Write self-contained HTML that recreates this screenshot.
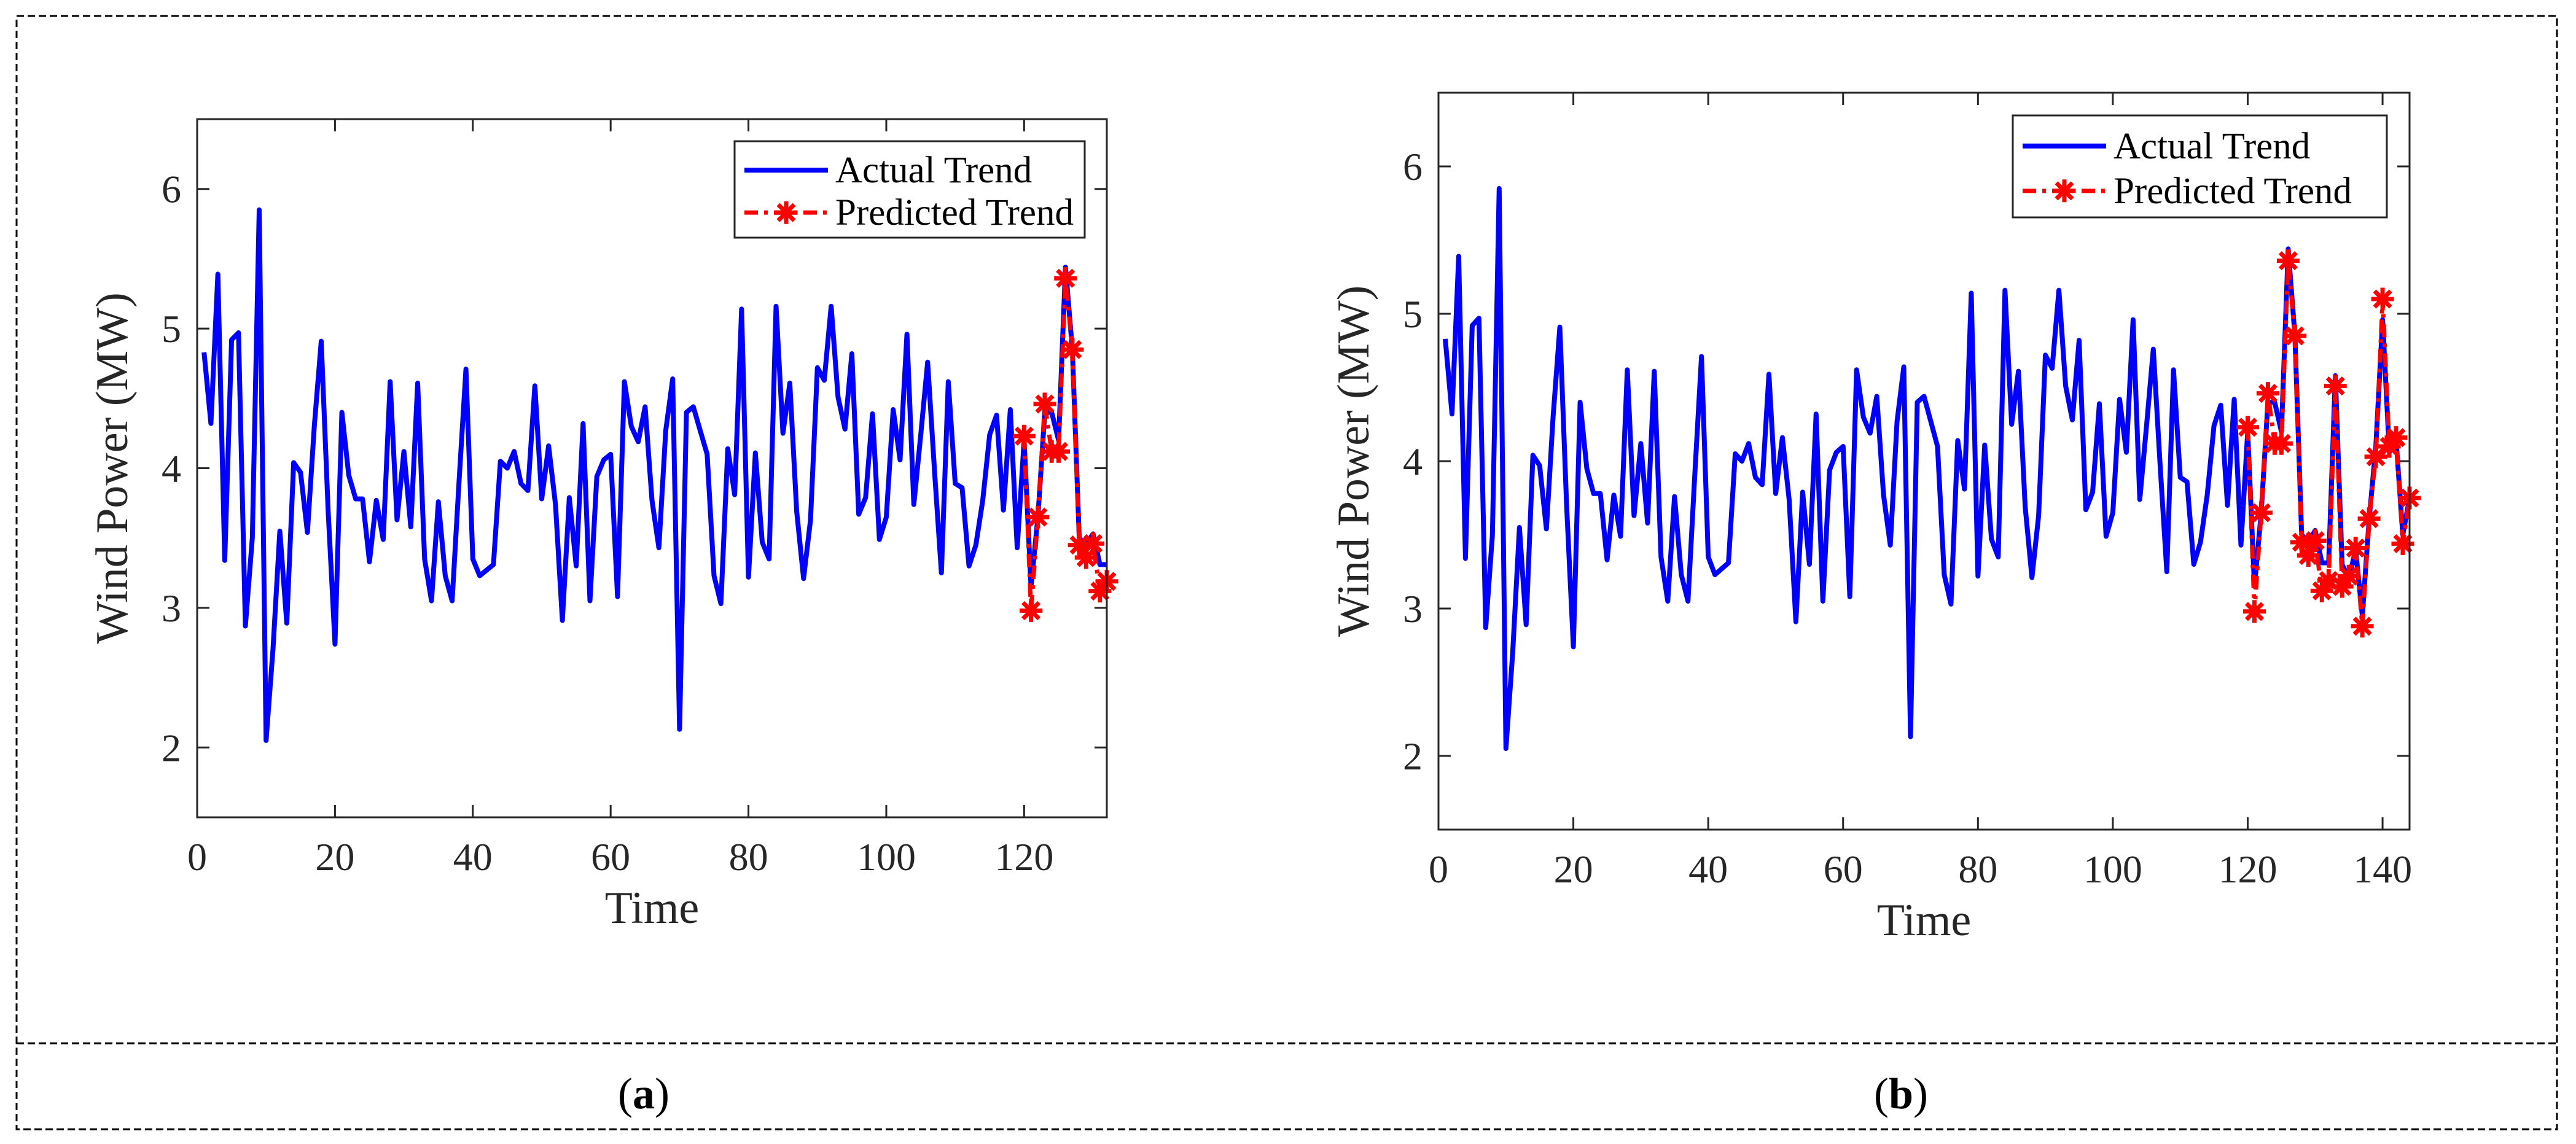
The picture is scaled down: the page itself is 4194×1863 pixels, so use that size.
<!DOCTYPE html>
<html><head><meta charset="utf-8"><style>
html,body{margin:0;padding:0;background:#fff;}
body{width:4194px;height:1863px;overflow:hidden;}
svg{display:block;font-family:"Liberation Serif",serif;}
</style></head><body>
<svg id="fig" width="4194" height="1863" viewBox="0 0 4194 1863" xmlns="http://www.w3.org/2000/svg">
<rect x="27" y="26" width="4136" height="1813" fill="none" stroke="#000" stroke-width="3" stroke-dasharray="12,6"/>
<line x1="27" y1="1699" x2="4163" y2="1699" stroke="#000" stroke-width="3" stroke-dasharray="12,6"/>
<text x="1048" y="1805" font-size="72" text-anchor="middle" fill="#000">(<tspan font-weight="bold">a</tspan>)</text>
<text x="3095" y="1805" font-size="72" text-anchor="middle" fill="#000">(<tspan font-weight="bold">b</tspan>)</text>
</svg>
<script>
const actual = [4.83,4.32,5.39,3.34,4.92,4.97,2.87,3.5,5.85,2.05,2.7,3.55,2.89,4.04,3.97,3.54,4.3,4.91,3.7,2.74,
4.40,3.95,3.78,3.78,3.33,3.77,3.49,4.62,3.63,4.12,3.58,4.61,3.35,3.05,3.76,3.23,3.05,3.9,4.71,3.35,
3.23,3.27,3.31,4.05,4.0,4.12,3.89,3.84,4.59,3.78,4.16,3.74,2.91,3.79,3.30,4.32,3.05,3.94,4.06,4.10,
3.08,4.62,4.30,4.19,4.44,3.77,3.43,4.27,4.64,2.13,4.40,4.44,4.27,4.10,3.23,3.03,4.14,3.81,5.14,3.22,
4.11,3.47,3.35,5.16,4.25,4.61,3.69,3.21,3.63,4.72,4.63,5.16,4.51,4.28,4.82,3.67,3.79,4.39,3.49,3.65,
4.42,4.06,4.96,3.74,4.24,4.76,3.98,3.25,4.62,3.89,3.86,3.30,3.45,3.77,4.24,4.38,3.70,4.42,3.43,4.2,
3.15,3.65,4.4,4.4,4.2,5.44,4.85,3.5,3.45,3.53,3.31,3.31,4.58,3.3,3.2,3.4,2.95,3.6,4.1,4.96,
4.06,4.15,3.5,3.75];
const predicted = [4.23,2.98,3.65,4.46,4.12,4.12,5.36,4.85,3.45,3.36,3.46,3.12,3.19,4.51,3.15,3.22,3.41,2.88,3.61,4.03,5.10,4.10,4.16,3.44,3.75];
const predStart = 120;
const xTicks = [0,20,40,60,80,100,120,140];
const yTicks = [2,3,4,5,6];
const NS = "http://www.w3.org/2000/svg";
const svg = document.getElementById('fig');
function el(tag, attrs, parent){const e=document.createElementNS(NS,tag);for(const k in attrs)e.setAttribute(k,attrs[k]);(parent||svg).appendChild(e);return e;}

function drawChart(id, L, R, T, B, xMax, nActual, nPred, leg){
  const g = el('g',{});
  
  
  const xs = v => L + (v/xMax)*(R-L);
  const ys = v => B - (v-1.5)/5*(B-T);
  // ticks
  xTicks.filter(t=>t<=xMax).forEach(t=>{
    const x=xs(t);
    const tk=el('path',{d:`M${x},${B}v-20M${x},${T}v20`,stroke:'#262626','stroke-width':3},g);
    
    
    const tx=el('text',{x:x,y:B+86,'font-size':64,'text-anchor':'middle',fill:'#262626'},g);
    tx.textContent=t;
    
    
  });
  yTicks.forEach(t=>{
    const y=ys(t);
    const tk=el('path',{d:`M${L},${y}h20M${R},${y}h-20`,stroke:'#262626','stroke-width':3},g);
    
    
    const tx=el('text',{x:L-26,y:y+22,'font-size':64,'text-anchor':'end',fill:'#262626'},g);
    tx.textContent=t;
    
    
  });
  // actual
  let d='';
  for(let i=0;i<nActual;i++){d+=(i?'L':'M')+xs(i+1).toFixed(1)+','+ys(actual[i]).toFixed(1);}
  const a=el('path',{d:d,fill:'none',stroke:'#0000ff','stroke-width':8,'stroke-linejoin':'round'},g);
  
  
  // predicted
  let pd='';
  for(let i=0;i<nPred;i++){pd+=(i?'L':'M')+xs(predStart+i).toFixed(1)+','+ys(predicted[i]).toFixed(1);}
  const p=el('path',{d:pd,fill:'none',stroke:'#ff0000','stroke-width':7,'stroke-dasharray':'22,10,6,10'},g);
  
  
  for(let i=0;i<nPred;i++){
    const m=star(xs(predStart+i),ys(predicted[i]),g);
    
    
  }
  // frame
  const f=el('rect',{x:L,y:T,width:R-L,height:B-T,fill:'none',stroke:'#262626','stroke-width':3},g);
  
  
  // labels
  const xl=el('text',{x:(L+R)/2,y:B+172,'font-size':74,'text-anchor':'middle',fill:'#262626'},g);
  xl.textContent='Time';
  
  
  const yx=L-114, yy=(T+B)/2;
  const yl=el('text',{x:yx,y:yy,'font-size':74,'text-anchor':'middle',fill:'#262626',transform:`rotate(-90 ${yx} ${yy})`},g);
  yl.textContent='Wind Power (MW)';
  
  
  // legend
  const lg=el('g',{},g);
  
  
  el('rect',{x:leg.x,y:leg.y,width:leg.w,height:leg.h,fill:'#fff',stroke:'#262626','stroke-width':3},lg);
  const r1=leg.y+leg.h*0.3, r2=leg.y+leg.h*0.74;
  const l1=el('line',{x1:leg.x+16,y1:r1,x2:leg.x+152,y2:r1,stroke:'#0000ff','stroke-width':8},lg);
  
  
  const t1=el('text',{x:leg.x+164,y:r1+20,'font-size':61,fill:'#000'},lg);
  t1.textContent='Actual Trend';
  
  
  const l2=el('line',{x1:leg.x+16,y1:r2,x2:leg.x+152,y2:r2,stroke:'#ff0000','stroke-width':7,'stroke-dasharray':'22,10,6,10'},lg);
  
  
  star(leg.x+84,r2,lg);
  const t2=el('text',{x:leg.x+164,y:r2+20,'font-size':61,fill:'#000'},lg);
  t2.textContent='Predicted Trend';
  
  
}
function star(cx,cy,parent){
  const g=el('g',{},parent);
  let d='';
  for(let k=0;k<8;k++){const a=k*Math.PI/4;d+=`M${cx},${cy}L${(cx+15*Math.cos(a)).toFixed(1)},${(cy+15*Math.sin(a)).toFixed(1)}`;}
  el('path',{d:d,stroke:'#ff0000','stroke-width':7,'stroke-linecap':'square'},g);
  el('circle',{cx:cx,cy:cy,r:9,fill:'#ff0000'},g);
  return g;
}
drawChart('a',321,1802,194,1331,132,132,13,{x:1196,y:230,w:570,h:157});
drawChart('b',2342,3923,151,1351,144,144,25,{x:3277,y:188,w:609,h:166});
</script>
</body></html>
